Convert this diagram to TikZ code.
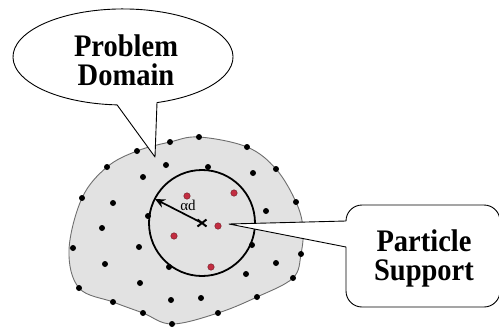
\documentclass[tikz,border=0pt]{standalone}
\usepackage{fontspec}
\setmainfont{Liberation Serif}
\usetikzlibrary{arrows.meta,calc}
\definecolor{domfill}{RGB}{226,226,226}
\definecolor{domline}{RGB}{110,110,110}
\definecolor{supdot}{RGB}{195,45,65}
% two centred lines, stretched a little in height; baseline = last line
\newcommand{\twolines}[2]{\scalebox{1}[1.1]{\vbox{\halign{\hfil##\hfil\cr #1\cr #2\cr}}}}
\tikzset{
  calloutline/.style={draw=black, line width=0.9pt, fill=white, line join=round},
  bigtext/.style={font=\fontsize{28.5}{25.5}\selectfont\bfseries, inner sep=0pt, anchor=base},
  node pt/.style={circle, fill=black, inner sep=0pt, minimum size=6pt},
  supp pt/.style={circle, fill=supdot, draw=supdot!55!black, line width=0.4pt, inner sep=0pt, minimum size=6.5pt},
}
\begin{document}
\begin{tikzpicture}[x=1pt, y=-1pt]
\useasboundingbox (0,0) rectangle (499,330);

% problem domain
\draw[fill=domfill, draw=domline, line width=0.9pt]
  plot[smooth cycle, tension=0.6] coordinates {
    (137,151) (170,142) (199,137) (247,147) (276,169) (296,202) (303,228)
    (301,254) (293,278) (257,297) (218,313) (172,324) (143,313) (113,302)
    (79,288) (69,250) (82,198) (107,167)};

% particle support circle
\coordinate (c) at (202,223);
\draw[line width=1.8pt] (c) circle[radius=53];

% particles
\foreach \p [count=\i] in {
    (137,151),(170,142),(199,137),(247,147),(276,169),(296,202),(301,254),
    (293,278),(257,297),(218,313),(172,324),(143,313),(113,302),(79,288),
    (73,248),(82,198),(107,167),
    (166,165),(143,177),(208,167),(253,173),(113,203),(266,211),(102,228),
    (148,216),(139,247),(252,245),(105,264),(169,267),(246,274),(276,263),
    (140,283),(171,300),(201,298)}
  \node[node pt] (p\i) at \p {};
\foreach \p [count=\i] in {(187,196),(234,193),(218,226),(174,236),(211,267)}
  \node[supp pt] (s\i) at \p {};

% centre mark and radius
\coordinate (x) at (c);
\draw[line width=2pt] ($(x)+(-4.5,-3.5)$) -- ($(x)+(4.5,3.5)$)
                      ($(x)+(-4.5,3.5)$) -- ($(x)+(4.5,-3.5)$);
\coordinate (rim) at (155,199);
\draw[line width=1.7pt, -{Stealth[length=10pt, width=9pt]}] (x) -- (rim);
\node[font=\fontsize{15}{15}\selectfont, anchor=base, inner sep=0pt] (ad) at (188,210) {αd};

% callout: problem domain
\coordinate (tipA) at (155,157);
\draw[calloutline]
  (157,102.6) arc[start angle=72, end angle=-266.9, x radius=110, y radius=48]
  -- (tipA) -- cycle;
\node[bigtext] (domlabel) at (126,85) {\twolines{Problem}{Domain}};

% callout: particle support
\coordinate (tipB) at (229,224);
\draw[calloutline]
  (tipB) -- (346,221) [rounded corners=16pt] -- (346,205) -- (500,205)
  -- (500,307) -- (346,307) [sharp corners] -- (346,247) -- cycle;
\node[bigtext] (suplabel) at (424,280) {\twolines{Particle}{Support}};
\end{tikzpicture}
\end{document}
